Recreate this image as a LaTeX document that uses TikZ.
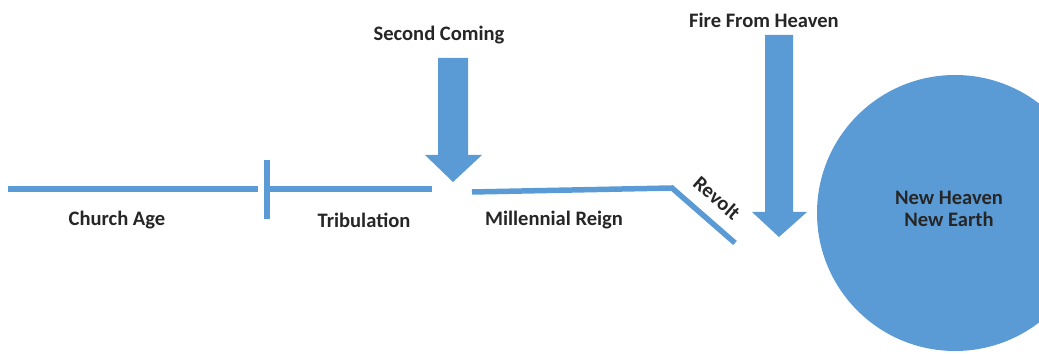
\documentclass[tikz,border=0pt]{standalone}
\usepackage{fontspec}
\setmainfont{Carlito}
\usepackage{tikz}
\usetikzlibrary{positioning,calc}
\definecolor{era}{HTML}{5B9BD5}
\tikzset{
    period/.style={
        draw=era,
        line width=0.11cm
    },
    stage/.style={
        font=\fontsize{11.7}{12.5}\selectfont\bfseries,
        text=black!85,
        inner sep=1pt
    },
    block/.style={
        fill=era
    }
}

\begin{document}
\begin{tikzpicture}[x=0.02cm, y=-0.02cm]
    \useasboundingbox (0,0) rectangle (1039,354);
    \clip (0,0) rectangle (1039,354);

    % timeline points
    \coordinate (start) at (8,189);
    \coordinate (rapture) at (258,189);
    \coordinate (tribStart) at (270,189);
    \coordinate (tribEnd) at (432,189);
    \coordinate (reignStart) at (472,192);
    \coordinate (reignEnd) at (672,188);
    \coordinate (revoltEnd) at (735,243);
    \coordinate (tickTop) at (267,160);
    \coordinate (tickBottom) at (267,219);

    \draw[period] (start) -- (rapture);
    \draw[period] (tribStart) -- (tribEnd);
    \draw[period, line width=0.12cm] (tickTop) -- (tickBottom);
    \draw[period, line join=miter] (reignStart) -- (reignEnd) -- (revoltEnd);

    % block arrows
    \fill[block] (438,58) -- (468,58) -- (468,155) -- (482,155) -- (453,182)
        -- (425,155) -- (438,155) -- cycle;
    \fill[block] (765,35) -- (793,35) -- (793,212) -- (807,212) -- (779,237)
        -- (752,212) -- (765,212) -- cycle;

    % new creation
    \fill[block] (955,213) circle (138);

    \node[stage] (church) at (117,220) {Church Age};
    \node[stage] (trib) at (364,220) {Tribulation};
    \node[stage] (second) at (439,35) {Second Coming};
    \node[stage] (reign) at (554,220) {Millennial Reign};
    \node[stage, rotate=-41] (revolt) at (717,198) {Revolt};
    \node[stage] (fire) at (764,20) {Fire From Heaven};
    \node[stage, align=center] (newEarth) at (949,209) {New Heaven\\New Earth};
\end{tikzpicture}
\end{document}
